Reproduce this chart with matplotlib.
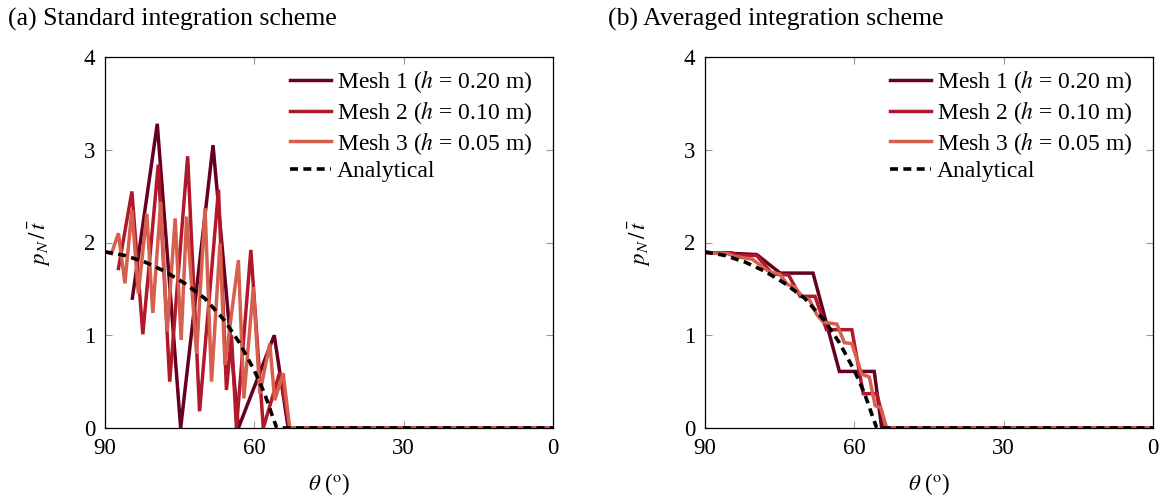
import numpy as np
import matplotlib
matplotlib.use('Agg')
import matplotlib.pyplot as plt

plt.rcParams['font.family'] = ['Liberation Serif', 'DejaVu Serif']
plt.rcParams['mathtext.fontset'] = 'stix'

labels = ["Mesh 1 ($h$ = 0.20 m)", "Mesh 2 ($h$ = 0.10 m)", "Mesh 3 ($h$ = 0.05 m)"]
colors = ["#67001f", "#b2182b", "#d6604d"]

# (a) standard integration
std_theta_1 = [84.5, 79.5, 74.8, 68.3, 63.2, 56.0, 53.2, 0.0]
std_p_1 = [1.40, 3.28, 0.00, 3.05, 0.00, 1.00, 0.00, 0.00]
std_theta_2 = [87.3, 84.6, 82.4, 79.3, 77.0, 73.4, 71.0, 67.2, 65.6, 64.6, 63.6,
               60.7, 58.2, 54.9, 52.9, 0.0]
std_p_2 = [1.72, 2.55, 1.01, 2.84, 0.50, 2.93, 0.18, 2.57, 0.41, 1.00, 0.00,
           1.92, 0.00, 0.60, 0.00, 0.00]
std_theta_3 = [90.0, 88.7, 87.3, 86.0, 84.6, 83.3, 81.6, 80.4, 78.8, 77.5, 75.9,
               74.7, 73.6, 71.6, 69.9, 68.6, 66.9, 65.9, 63.2, 62.1, 60.2, 58.9,
               56.9, 55.9, 54.2, 52.9, 0.0]
std_p_3 = [1.90, 1.88, 2.10, 1.56, 2.35, 1.45, 2.31, 1.24, 2.44, 1.04, 2.26,
           0.95, 2.28, 0.80, 2.37, 0.50, 1.99, 0.68, 1.81, 0.32, 1.52, 0.37,
           0.91, 0.30, 0.59, 0.00, 0.00]

# (b) averaged integration
avg_theta_1 = [90.0, 83.6, 79.6, 74.9, 68.3, 63.0, 56.0, 54.5, 0.0]
avg_p_1 = [1.89, 1.88, 1.87, 1.67, 1.67, 0.61, 0.61, 0.00, 0.00]
avg_theta_2 = [90.0, 84.6, 83.5, 79.6, 76.5, 73.2, 70.9, 67.9, 65.6, 60.5,
               58.2, 55.5, 53.7, 0.0]
avg_p_2 = [1.89, 1.89, 1.86, 1.86, 1.66, 1.65, 1.42, 1.42, 1.06, 1.06,
           0.37, 0.37, 0.00, 0.00]
avg_theta_3 = [90.0, 85.5, 84.0, 80.5, 79.0, 77.0, 75.0, 73.5, 72.0, 70.5,
               69.0, 67.5, 66.2, 63.5, 62.0, 60.5, 58.5, 57.0, 55.8, 54.7,
               53.5, 0.0]
avg_p_3 = [1.89, 1.88, 1.85, 1.82, 1.76, 1.68, 1.66, 1.55, 1.52, 1.42,
           1.38, 1.22, 1.14, 1.12, 0.92, 0.91, 0.58, 0.55, 0.24, 0.22,
           0.00, 0.00]

# analytical solution
ana_theta = [90.0, 86.0, 82.0, 78.0, 74.0, 70.0, 66.0, 63.0, 60.0, 58.0,
             56.5, 55.5, 0.0]
ana_p = [1.90, 1.86, 1.79, 1.69, 1.56, 1.40, 1.16, 0.92, 0.62, 0.38,
         0.15, 0.00, 0.00]

panels = [
    ("(a) Standard integration scheme",
     [(std_theta_1, std_p_1), (std_theta_2, std_p_2), (std_theta_3, std_p_3)]),
    ("(b) Averaged integration scheme",
     [(avg_theta_1, avg_p_1), (avg_theta_2, avg_p_2), (avg_theta_3, avg_p_3)]),
]

fig = plt.figure(figsize=(11.69, 5.01), dpi=100)
lefts = [105 / 1169, 705 / 1169]
fs_tick = 16.5
fs_leg = 17
fs_title = 18.5

for (title, series), left in zip(panels, lefts):
    ax = fig.add_axes([left, 73 / 501, 448 / 1169, 371 / 501])
    for (th, p), c, lab in zip(series, colors, labels):
        ax.plot(th, p, color=c, linewidth=2.5, label=lab, solid_joinstyle='miter')
    ax.plot(ana_theta, ana_p, color="black", linewidth=2.6, linestyle=(0, (2.2, 1.5)),
            label="Analytical")
    ax.set_xlim(90, 0)
    ax.set_ylim(0, 4)
    ax.set_xticks([90, 60, 30, 0])
    ax.set_yticks([0, 1, 2, 3, 4])
    ax.tick_params(direction="in", top=True, right=True, length=5, width=0.8,
                   color="#999999", labelsize=fs_tick, pad=7)
    for s in ax.spines.values():
        s.set_linewidth(0.9)
    ax.set_xlabel(r"$\theta$ ($^{\mathrm{o}}$)", fontsize=fs_tick, labelpad=9)
    ax.set_ylabel(r"$p_N\,/\,\bar{t}$", fontsize=fs_tick, labelpad=22)
    ax.legend(loc="upper right", frameon=False, fontsize=fs_leg, handlelength=1.75,
              handletextpad=0.25, labelspacing=0.16, borderaxespad=0.0,
              bbox_to_anchor=(0.975, 0.995))
    fig.text(left - 97 / 1169, 1 - 19 / 501, title, fontsize=fs_title,
             va="center", ha="left")

plt.savefig("out.png", dpi=100)
plt.close()
